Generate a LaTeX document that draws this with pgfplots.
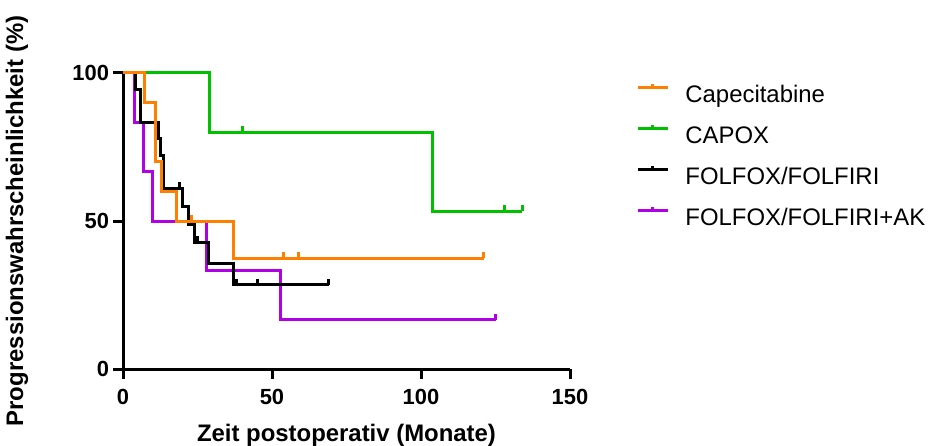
\documentclass[border=0pt]{standalone}
\usepackage{fontspec}
\setmainfont{Liberation Sans}
\usepackage{pgfplots}
\pgfplotsset{compat=1.18}
\definecolor{cOrange}{RGB}{255,128,0}
\definecolor{cGreen}{RGB}{0,192,0}
\definecolor{cPurple}{RGB}{176,0,230}
\pgfdeclareplotmark{cens}{\pgfpathmoveto{\pgfpointorigin}\pgfpathlineto{\pgfpoint{0pt}{3bp}}\pgfusepathqstroke}
\begin{document}
\begin{tikzpicture}
\path[use as bounding box] (-61.5bp,-38.5bp) rectangle (403.5bp,184.5bp);
\begin{axis}[
  scale only axis, width=223.5bp, height=148bp,
  at={(0,0)}, anchor=south west,
  xmin=0, xmax=150, ymin=0, ymax=100,
  axis lines=left, axis line style={-, line width=1.5bp},
  xtick={0,50,100,150}, ytick={0,50,100},
  minor tick num=0,
  tick align=outside, major tick length=5bp,
  tick style={line width=1.5bp, black},
  ticklabel style={font=\fontsize{11}{13}\selectfont\bfseries},
  xticklabel style={yshift=-1.5bp},
  yticklabel style={xshift=1.5bp},
  /pgf/number format/assume math mode=true,
  xlabel={Zeit postoperativ (Monate)},
  ylabel={Progressionswahrscheinlichkeit (\%)},
  every axis x label/.style={at={(axis description cs:0.5,0)}, anchor=base, yshift=-36bp, font=\fontsize{12}{14}\selectfont\bfseries},
  every axis y label/.style={at={(axis description cs:0,0.5)}, xshift=-53bp, rotate=90, anchor=center, font=\fontsize{12}{14}\selectfont\bfseries},
  clip=false,
  reverse legend,
  legend image code/.code={
    \draw[#1, line width=1.5bp] (0bp,4bp) -- (15bp,4bp);
    \draw[#1, line width=1.5bp] (7.5bp,4bp) -- (7.5bp,6bp);
  },
  legend style={draw=none, fill=none, inner sep=0pt,
    at={(1.1477,0.9700)}, anchor=north west,
    font=\fontsize{12}{14}\selectfont,
    nodes={inner sep=0pt, text height=9bp, text depth=2.5bp},
    row sep=8bp,
    /tikz/every odd column/.append style={column sep=8bp}},
  legend cell align=left,
]
% FOLFOX/FOLFIRI+AK
\addplot[cPurple, line width=1.5bp, const plot, mark=none] coordinates {
 (0,100) (3.9,83.3) (7,66.7) (10,50) (28,33.3) (53,16.7) (125,16.7)};
\addlegendentry{FOLFOX/FOLFIRI+AK}
\addplot[cPurple, only marks, mark=cens, mark options={line width=1.5bp}, forget plot] coordinates {(125,16.7)};
% FOLFOX/FOLFIRI
\addplot[black, line width=1.5bp, const plot, mark=none] coordinates {
 (0,100) (4.3,94.4) (5.9,83.3) (11.8,77.8) (12.7,72.2) (13.7,61.1) (20,55.0) (22.1,48.9) (24.1,42.8) (28.8,35.6) (37,28.5) (69,28.5)};
\addlegendentry{FOLFOX/FOLFIRI}
\addplot[black, only marks, mark=cens, mark options={line width=1.5bp}, forget plot] coordinates {(19,61.1) (25,42.8) (38,28.5) (45,28.5) (69,28.5)};
% CAPOX
\addplot[cGreen, line width=1.5bp, const plot, mark=none] coordinates {
 (0,100) (29,80) (104,53.3) (134,53.3)};
\addlegendentry{CAPOX}
\addplot[cGreen, only marks, mark=cens, mark options={line width=1.5bp}, forget plot] coordinates {(40,80) (128,53.3) (134,53.3)};
% Capecitabine
\addplot[cOrange, line width=1.5bp, const plot, mark=none] coordinates {
 (0,100) (7.3,90) (11,70) (13,60) (18,50) (37,37.5) (121,37.5)};
\addlegendentry{Capecitabine}
\addplot[cOrange, only marks, mark=cens, mark options={line width=1.5bp}, forget plot] coordinates {(23,50) (54,37.5) (59,37.5) (121,37.5)};
\end{axis}
\end{tikzpicture}
\end{document}
